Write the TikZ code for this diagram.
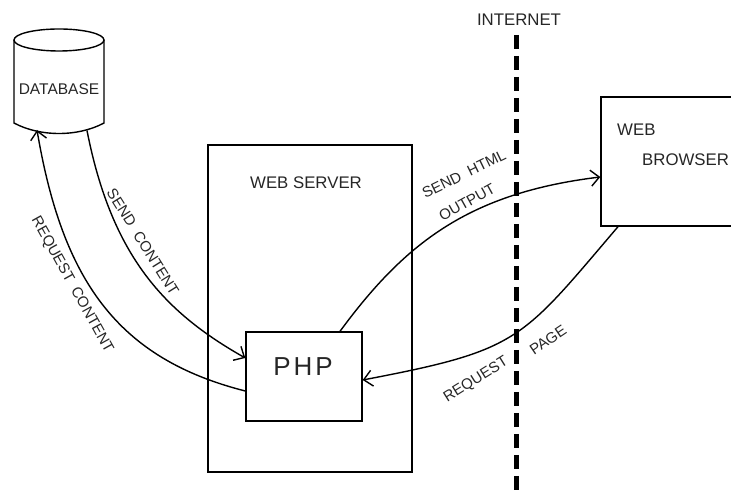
\documentclass[tikz,border=0pt]{standalone}
\usepackage{fontspec}
\setmainfont{Liberation Sans}
\usetikzlibrary{arrows.meta}
\begin{document}
\begin{tikzpicture}[x=1pt,y=1pt,
  box/.style={draw, line width=1.4pt, inner sep=0pt},
  lbl/.style={font=\fontsize{15}{17}\selectfont, text=black!85, inner sep=0pt},
  big/.style={font=\fontsize{16.8}{18}\selectfont},
  conn/.style={line width=1.4pt, -{Straight Barb[length=8.5pt,width=16pt,line width=1.4pt]}},
  netline/.style={line width=5pt, dash pattern=on 14pt off 7pt},
  ]
\useasboundingbox (0,0) rectangle (731,495);
\clip (0,0) rectangle (731,495);

% database
\draw[box] (59,455) ellipse (45 and 11);
\draw[box] (14,455) -- (14,372) .. controls (40,358) and (78,358) .. (104,372) -- (104,455);
\node[lbl, font=\fontsize{15.5}{17}\selectfont] (db) at (59,406) {DATABASE};
\coordinate (dbout) at (87,364.5);
\coordinate (dbin) at (37,365);

% web server
\node[box, minimum width=204pt, minimum height=327pt] (ws) at (310,186.5) {};
\node[lbl, big] (wst) at (306,312) {WEB SERVER};

% php
\node[box, minimum width=116pt, minimum height=89pt] (php) at (304,118.5) {};
\node[lbl, font=\fontsize{26}{28}\selectfont] (phpt) at (303,128) {P\hspace{3pt}H\hspace{3pt}P};

% browser
\node[box, minimum width=139pt, minimum height=129pt] (wb) at (670.5,333.5) {};
\node[lbl, big, anchor=west] (wbt1) at (617,365) {WEB};
\node[lbl, big, anchor=west] (wbt2) at (642,335) {BROWSER};

% internet
\coordinate (itop) at (516,460);
\coordinate (ibot) at (516,-5);
\draw[netline] (itop) -- (ibot);
\node[lbl, big] (inet) at (519,475) {INTERNET};

% connectors
\draw[conn] (dbout) .. controls (112,237) and (166,182) .. ([yshift=18.5pt]php.west);
\draw[conn] ([yshift=-14.5pt]php.west) .. controls (117,136.5) and (62.5,215) .. (dbin);
\draw[conn] ([xshift=36pt]php.north) .. controls (405,252) and (469,302) .. ([yshift=-15.5pt]wb.west);
\draw[conn] ([xshift=-52.5pt]wb.south) .. controls (520.5,154) and (520,145) .. ([yshift=-3.5pt]php.east);

% labels
\node[lbl, rotate=-58] (l1) at (143,253) {SEND\ \ CONTENT};
\node[lbl, rotate=-61] (l2) at (72,210) {REQUEST\ \ CONTENT};
\node[lbl, rotate=26] (l3) at (464,321) {SEND\ \ HTML};
\node[lbl, rotate=29] (l4) at (467,293) {OUTPUT};
\node[lbl, rotate=32] (l5) at (476,115) {REQUEST};
\node[lbl, rotate=34] (l6) at (548,155) {PAGE};
\end{tikzpicture}
\end{document}
